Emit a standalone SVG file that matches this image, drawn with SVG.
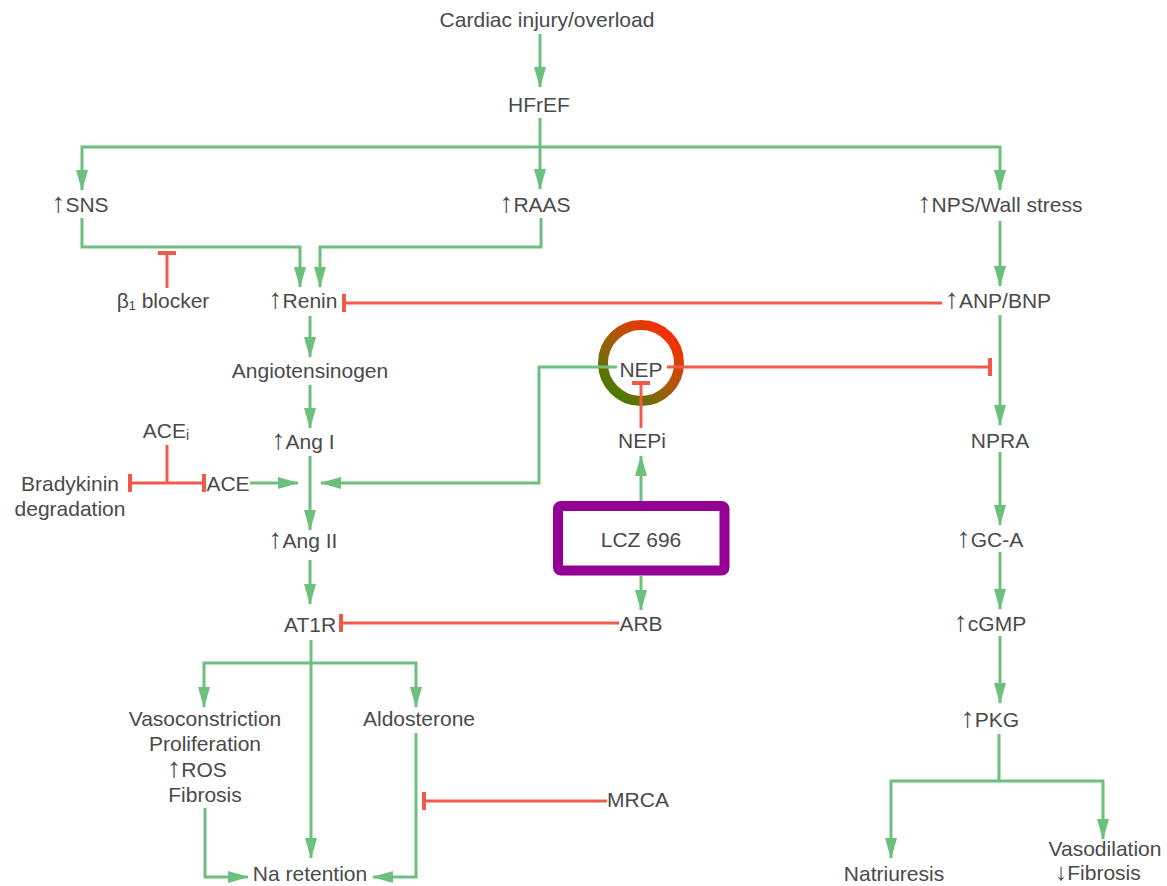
<svg xmlns="http://www.w3.org/2000/svg" width="1167" height="886" viewBox="0 0 1167 886">
<style>
text{font-family:"Liberation Sans","DejaVu Sans",sans-serif;font-size:21px;fill:#4a4a4a;text-anchor:middle}
.ar{font-size:28px}
.ad{font-size:24px}
.g{fill:none;stroke:#6cc07e;stroke-width:3;marker-end:url(#ag)}
.gl{fill:none;stroke:#6cc07e;stroke-width:3}
.r{fill:none;stroke:#f05a4a;stroke-width:3;marker-end:url(#tee)}
.rl{fill:none;stroke:#f05a4a;stroke-width:3}
</style>
<defs>
<marker id="ag" viewBox="0 0 21 12" refX="20" refY="6" markerWidth="21" markerHeight="12" markerUnits="userSpaceOnUse" orient="auto"><path d="M0,0 L21,6 L0,12 z" fill="#6cc07e"/></marker>
<marker id="tee" viewBox="0 0 4 18" refX="2" refY="9" markerWidth="4" markerHeight="18" markerUnits="userSpaceOnUse" orient="auto"><rect x="0" y="0" width="4" height="18" fill="#f05a4a"/></marker>
<linearGradient id="nepg" gradientUnits="userSpaceOnUse" x1="612" y1="398" x2="672" y2="330">
<stop offset="0" stop-color="#3f7d00"/><stop offset="0.5" stop-color="#a85a0c"/><stop offset="1" stop-color="#ff2a00"/>
</linearGradient>
</defs>
<rect width="1167" height="886" fill="#ffffff"/>
<g id="nep-ring"><circle cx="641" cy="363" r="38" fill="none" stroke="url(#nepg)" stroke-width="10"/></g>
<g id="connectors">
<path class="g" d="M540,34 V87"/>
<path class="g" d="M540,118 V189"/>
<path class="g" d="M540,147 H82 V190"/>
<path class="g" d="M540,147 H1000 V190"/>
<path class="g" d="M82,218 V247 H300 V287"/>
<path class="g" d="M541,218 V247 H320 V287"/>
<path class="r" d="M167,288 V253"/>
<path class="r" d="M942,303 H344"/>
<path class="g" d="M1000,221 V286"/>
<path class="g" d="M310,316 V357"/>
<path class="g" d="M310,385 V428"/>
<path class="g" d="M310,456 V530"/>
<path class="g" d="M250,483 H298"/>
<path class="g" d="M617,367 H539 V483 H321"/>
<path class="rl" d="M167,445 V483"/>
<path class="r" d="M167,483 H130"/>
<path class="r" d="M167,483 H204"/>
<path class="r" d="M667,367 H990"/>
<path class="g" d="M1000,315 V425"/>
<path class="r" d="M641,428 V383"/>
<path class="g" d="M641,501 V456"/>
<path class="g" d="M641,576 V610"/>
<path class="r" d="M619,623 H341"/>
<path class="g" d="M310,560 V604"/>
<path class="g" d="M311,640 V858"/>
<path class="g" d="M311,663 H204 V707"/>
<path class="g" d="M311,663 H416 V707"/>
<path class="g" d="M205,808 V877 H248"/>
<path class="g" d="M416,733 V877 H373"/>
<path class="r" d="M607,801 H424"/>
<path class="g" d="M1000,452 V525"/>
<path class="g" d="M1000,552 V609"/>
<path class="g" d="M1000,636 V703"/>
<path class="g" d="M999,734 V781 H891 V858"/>
<path class="g" d="M999,781 H1103 V839"/>
</g>
<g id="cardiac"><text x="547" y="27">Cardiac injury/overload</text></g>
<g id="hfref"><text x="539" y="112">HFrEF</text></g>
<g id="sns"><text x="80" y="212"><tspan class="ar">↑</tspan>SNS</text></g>
<g id="raas"><text x="535" y="212"><tspan class="ar">↑</tspan>RAAS</text></g>
<g id="nps"><text x="1000" y="212"><tspan class="ar">↑</tspan>NPS/Wall stress</text></g>
<g id="bblocker"><text x="163" y="308">β₁ blocker</text></g>
<g id="renin"><text x="303" y="308"><tspan class="ar">↑</tspan>Renin</text></g>
<g id="anp"><text x="998" y="308"><tspan class="ar">↑</tspan>ANP/BNP</text></g>
<g id="angiotensinogen"><text x="310" y="378">Angiotensinogen</text></g>
<g id="nep"><text x="641" y="377">NEP</text></g>
<g id="acei"><text x="166" y="438">ACE<tspan font-size="14" dy="2">i</tspan></text></g>
<g id="ang1"><text x="303" y="449"><tspan class="ar">↑</tspan>Ang I</text></g>
<g id="nepi"><text x="642" y="448">NEPi</text></g>
<g id="npra"><text x="1000" y="448">NPRA</text></g>
<g id="bradykinin"><text x="70" y="491">Bradykinin</text><text x="70" y="516">degradation</text></g>
<g id="ace"><text x="228" y="491">ACE</text></g>
<g id="ang2"><text x="303" y="548"><tspan class="ar">↑</tspan>Ang II</text></g>
<g id="lcz696"><rect x="558" y="506" width="166.5" height="64.5" rx="3" fill="none" stroke="#930093" stroke-width="10"/><text x="641" y="547">LCZ 696</text></g>
<g id="gca"><text x="990" y="547"><tspan class="ar">↑</tspan>GC-A</text></g>
<g id="at1r"><text x="310" y="632">AT1R</text></g>
<g id="arb"><text x="641" y="631">ARB</text></g>
<g id="cgmp"><text x="990" y="631"><tspan class="ar">↑</tspan>cGMP</text></g>
<g id="vaso"><text x="205" y="726">Vasoconstriction</text><text x="205" y="751">Proliferation</text><text x="197" y="777"><tspan class="ar">↑</tspan>ROS</text><text x="205" y="802">Fibrosis</text></g>
<g id="aldosterone"><text x="419" y="726">Aldosterone</text></g>
<g id="pkg"><text x="990" y="727"><tspan class="ar">↑</tspan>PKG</text></g>
<g id="mrca"><text x="638" y="807">MRCA</text></g>
<g id="na"><text x="310" y="881">Na retention</text></g>
<g id="natriuresis"><text x="894" y="881">Natriuresis</text></g>
<g id="vasodilation"><text x="1105" y="856">Vasodilation</text><text x="1098" y="880"><tspan class="ad">↓</tspan>Fibrosis</text></g>
</svg>
